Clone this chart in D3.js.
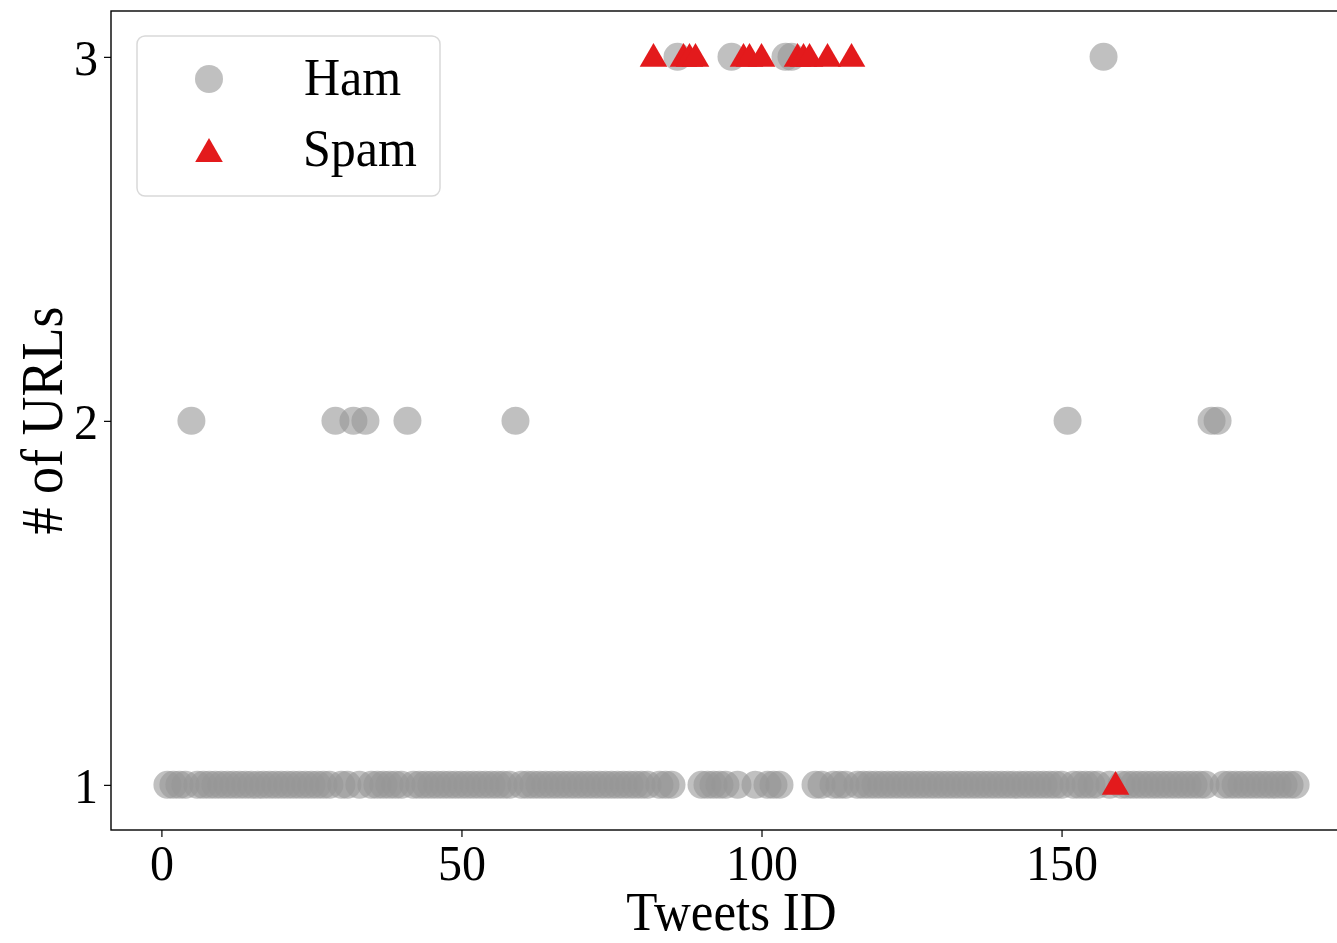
<!DOCTYPE html>
<html>
<head>
<meta charset="utf-8">
<script src="https://cdn.jsdelivr.net/npm/d3@7"></script>
<style>
    body { margin: 0; background: #fff; }
    text { font-family: "Liberation Serif", "DejaVu Serif", serif; fill: #000; }
</style>
</head>
<body>
<div id="viz"></div>
<script>
// tweets: tweet id per number of URLs
const hamIdsUrl1 = [1, 2, 3, 4, 6, 7, 8, 9, 10, 11, 12, 13, 14, 15, 16, 17, 18, 19, 20,
    21, 22, 23, 24, 25, 26, 27, 28, 30, 31, 33, 35, 36, 37, 38, 39, 40, 42, 43, 44, 45,
    46, 47, 48, 49, 50, 51, 52, 53, 54, 55, 56, 57, 58, 60, 61, 62, 63, 64, 65, 66, 67,
    68, 69, 70, 71, 72, 73, 74, 75, 76, 77, 78, 79, 80, 81, 83, 84, 85, 90, 91, 92, 93,
    94, 96, 99, 101, 102, 103, 109, 110, 112, 113, 114, 116, 117, 118, 119, 120, 121,
    122, 123, 124, 125, 126, 127, 128, 129, 130, 131, 132, 133, 134, 135, 136, 137, 138,
    139, 140, 141, 142, 143, 144, 145, 146, 147, 148, 149, 150, 152, 153, 154, 155, 156,
    158, 160, 161, 162, 163, 164, 165, 166, 167, 168, 169, 170, 171, 172, 173, 174, 177,
    178, 179, 180, 181, 182, 183, 184, 185, 186, 187, 188, 189];
const hamIdsUrl2 = [5, 29, 32, 34, 41, 59, 151, 175, 176];
const hamIdsUrl3 = [86, 95, 104, 105, 157];
const spamIdsUrl1 = [159];
const spamIdsUrl3 = [82, 87, 88, 89, 97, 98, 100, 106, 107, 108, 111, 115];

const seriesNames = ["Ham", "Spam"];
const xTicks = [0, 50, 100, 150];
const yTicks = [1, 2, 3];

const ham = [].concat(
    hamIdsUrl1.map(id => ({ id: id, urls: 1 })),
    hamIdsUrl2.map(id => ({ id: id, urls: 2 })),
    hamIdsUrl3.map(id => ({ id: id, urls: 3 })));
const spam = [].concat(
    spamIdsUrl1.map(id => ({ id: id, urls: 1 })),
    spamIdsUrl3.map(id => ({ id: id, urls: 3 })));

const width = 1337;
const height = 943;
const plotLeft = 111, plotTop = 11, plotRight = 1352, plotBottom = 830;

const svg = d3.select("#viz").append("svg")
    .attr("width", width)
    .attr("height", height);

const x = d3.scaleLinear().domain([-8.4, 198.4]).range([plotLeft, plotRight]);
const y = d3.scaleLinear().domain([0.876, 3.126]).range([plotBottom, plotTop]);

const hamColor = "#969696";
const spamColor = "#e31a1c";
const triangle = d3.symbol().type(d3.symbolTriangle).size(330);

// points
svg.append("g").selectAll("circle")
    .data(ham)
    .enter()
    .append("circle")
    .attr("cx", d => x(d.id))
    .attr("cy", d => y(d.urls))
    .attr("r", 14)
    .attr("fill", hamColor)
    .attr("fill-opacity", 0.6);

svg.append("g").selectAll("path")
    .data(spam)
    .enter()
    .append("path")
    .attr("d", triangle)
    .attr("transform", d => `translate(${x(d.id)},${y(d.urls) + 2})`)
    .attr("fill", spamColor);

// axes
const xAxis = svg.append("g")
    .attr("transform", `translate(0,${plotBottom})`)
    .call(d3.axisBottom(x).tickValues(xTicks).tickSize(7).tickFormat(d3.format("d")));
const yAxis = svg.append("g")
    .attr("transform", `translate(${plotLeft},0)`)
    .call(d3.axisLeft(y).tickValues(yTicks).tickSize(7).tickFormat(d3.format("d")));

[xAxis, yAxis].forEach(a => {
    a.select(".domain").remove();
    a.selectAll(".tick line").attr("stroke", "#000").attr("stroke-width", 1.2);
    a.selectAll(".tick text")
        .style("font-family", '"Liberation Serif", serif')
        .style("font-size", "48px")
        .attr("fill", "#000")
        .attr("x", 0).attr("y", 0).attr("dy", null);
});
// tick labels a bit taller, like the original TeX font
xAxis.selectAll(".tick text").attr("transform", "translate(0,50) scale(1,1.06)");
yAxis.selectAll(".tick text").attr("transform", "translate(-13,18) scale(1,1.06)");

// frame
svg.append("rect")
    .attr("x", plotLeft)
    .attr("y", plotTop)
    .attr("width", plotRight - plotLeft)
    .attr("height", plotBottom - plotTop)
    .attr("fill", "none")
    .attr("stroke", "#000")
    .attr("stroke-width", 1.4);

// labels
svg.append("text")
    .attr("transform", `translate(${(plotLeft + plotRight) / 2},930) scale(1,1.06)`)
    .attr("text-anchor", "middle")
    .style("font-size", "51px")
    .text("Tweets ID");

svg.append("text")
    .attr("transform", `translate(62,${(plotTop + plotBottom) / 2}) rotate(-90) scale(1,1.1)`)
    .attr("text-anchor", "middle")
    .style("font-size", "54px")
    .text("# of URLs");

// legend
const legend = svg.append("g");
legend.append("rect")
    .attr("x", 137).attr("y", 36)
    .attr("width", 303).attr("height", 160)
    .attr("rx", 8)
    .attr("fill", "#fff").attr("fill-opacity", 0.8)
    .attr("stroke", "#d9d9d9").attr("stroke-width", 1.5);

legend.append("circle").attr("cx", 209).attr("cy", 79).attr("r", 14)
    .attr("fill", hamColor).attr("fill-opacity", 0.6);
legend.append("path").attr("d", triangle)
    .attr("transform", "translate(209,154)")
    .attr("fill", spamColor);

legend.append("text").attr("transform", "translate(304,95) scale(1,1.06)")
    .style("font-size", "50px").text(seriesNames[0]);
legend.append("text").attr("transform", "translate(303,166) scale(1,1.06)")
    .style("font-size", "50px").text(seriesNames[1]);
</script>
</body>
</html>
